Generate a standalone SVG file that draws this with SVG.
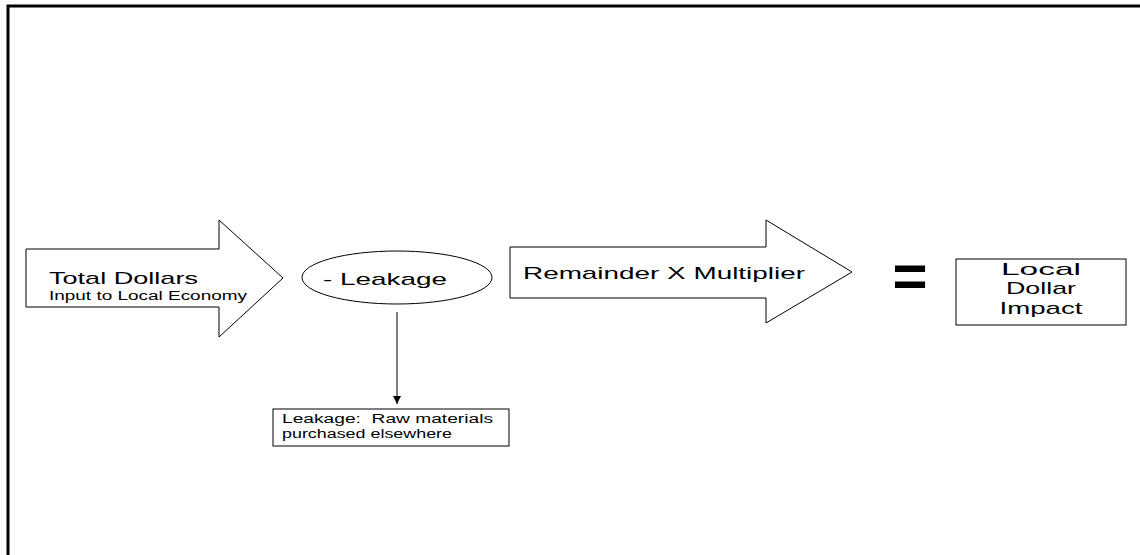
<svg xmlns="http://www.w3.org/2000/svg" width="1140" height="555" viewBox="0 0 1140 555">
<style>
.shape{fill:#fff;stroke:#000;stroke-width:1}
.t{font-family:"Liberation Sans",Arial,sans-serif;fill:#000}
.big{font-size:17px}
.small{font-size:12px}
</style>
<defs>
<marker id="ah" viewBox="0 0 10 10" refX="10" refY="5" markerWidth="8" markerHeight="8" markerUnits="userSpaceOnUse" orient="auto">
<path d="M0,0 L10,5 L0,10 Z" fill="#000"/>
</marker>
</defs>
<rect width="1140" height="555" fill="#fff"/>
<path d="M8,555 V6 H1140" fill="none" stroke="#000" stroke-width="3"/>
<g id="total-dollars">
<polygon class="shape" points="26,249 219,249 219,220 283,278 219,337 219,307 26,307"/>
<text class="t big" x="49" y="284" textLength="149" lengthAdjust="spacingAndGlyphs">Total Dollars</text>
<text class="t small" x="49" y="300" textLength="198" lengthAdjust="spacingAndGlyphs">Input to Local Economy</text>
</g>
<g id="leakage">
<ellipse class="shape" cx="397" cy="277.5" rx="95" ry="26.5"/>
<text class="t big" x="323" y="285" textLength="124" lengthAdjust="spacingAndGlyphs">- Leakage</text>
</g>
<g id="leakage-note">
<rect class="shape" x="273" y="409" width="236" height="37"/>
<text class="t small" x="282" y="423" textLength="211" lengthAdjust="spacingAndGlyphs" xml:space="preserve">Leakage:  Raw materials</text>
<text class="t small" x="282" y="438" textLength="170" lengthAdjust="spacingAndGlyphs">purchased elsewhere</text>
</g>
<g id="remainder">
<polygon class="shape" points="510,247 766,247 766,220 852,272 766,323 766,298 510,298"/>
<text class="t big" x="523" y="279" textLength="282" lengthAdjust="spacingAndGlyphs">Remainder X Multiplier</text>
</g>
<g id="equals">
<text class="t" x="910" y="296" font-size="60" font-weight="bold" text-anchor="middle">=</text>
</g>
<g id="local-impact">
<rect class="shape" x="956" y="259" width="170" height="66"/>
<text class="t big" x="1041" y="275" text-anchor="middle" textLength="80" lengthAdjust="spacingAndGlyphs">Local</text>
<text class="t big" x="1041" y="294" text-anchor="middle" textLength="70" lengthAdjust="spacingAndGlyphs">Dollar</text>
<text class="t big" x="1041" y="314" text-anchor="middle" textLength="83" lengthAdjust="spacingAndGlyphs">Impact</text>
</g>
<g id="connectors">
<line x1="397" y1="312" x2="397" y2="404" stroke="#000" stroke-width="1" marker-end="url(#ah)"/>
</g>
</svg>
